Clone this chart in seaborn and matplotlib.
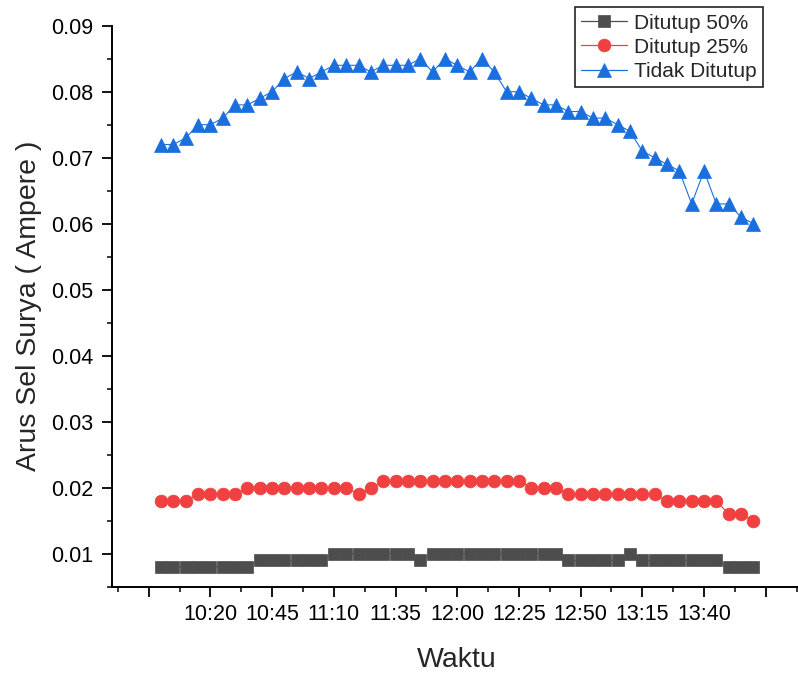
import pandas as pd
import matplotlib
matplotlib.use("Agg")
import matplotlib.pyplot as plt
import matplotlib.ticker as mticker
import seaborn as sns

# ---------------- data ----------------
waktu = ["10:00", "10:05", "10:10", "10:15", "10:20", "10:25", "10:30", "10:35", "10:40", "10:45",
         "10:50", "10:55", "11:00", "11:05", "11:10", "11:15", "11:20", "11:25", "11:30", "11:35",
         "11:40", "11:45", "11:50", "11:55", "12:00", "12:05", "12:10", "12:15", "12:20", "12:25",
         "12:30", "12:35", "12:40", "12:45", "12:50", "12:55", "13:00", "13:05", "13:10", "13:15",
         "13:20", "13:25", "13:30", "13:35", "13:40", "13:45", "13:50", "13:55", "14:00"]

ditutup_50 = [0.008, 0.008, 0.008, 0.008, 0.008, 0.008, 0.008, 0.008, 0.009, 0.009,
              0.009, 0.009, 0.009, 0.009, 0.010, 0.010, 0.010, 0.010, 0.010, 0.010,
              0.010, 0.009, 0.010, 0.010, 0.010, 0.010, 0.010, 0.010, 0.010, 0.010,
              0.010, 0.010, 0.010, 0.009, 0.009, 0.009, 0.009, 0.009, 0.010, 0.009,
              0.009, 0.009, 0.009, 0.009, 0.009, 0.009, 0.008, 0.008, 0.008]

ditutup_25 = [0.018, 0.018, 0.018, 0.019, 0.019, 0.019, 0.019, 0.020, 0.020, 0.020,
              0.020, 0.020, 0.020, 0.020, 0.020, 0.020, 0.019, 0.020, 0.021, 0.021,
              0.021, 0.021, 0.021, 0.021, 0.021, 0.021, 0.021, 0.021, 0.021, 0.021,
              0.020, 0.020, 0.020, 0.019, 0.019, 0.019, 0.019, 0.019, 0.019, 0.019,
              0.019, 0.018, 0.018, 0.018, 0.018, 0.018, 0.016, 0.016, 0.015]

tidak_ditutup = [0.072, 0.072, 0.073, 0.075, 0.075, 0.076, 0.078, 0.078, 0.079, 0.080,
                 0.082, 0.083, 0.082, 0.083, 0.084, 0.084, 0.084, 0.083, 0.084, 0.084,
                 0.084, 0.085, 0.083, 0.085, 0.084, 0.083, 0.085, 0.083, 0.080, 0.080,
                 0.079, 0.078, 0.078, 0.077, 0.077, 0.076, 0.076, 0.075, 0.074, 0.071,
                 0.070, 0.069, 0.068, 0.063, 0.068, 0.063, 0.063, 0.061, 0.060]

# time -> minutes since midnight for the numeric x axis
def ke_menit(s):
    j, m = s.split(":")
    return int(j) * 60 + int(m)

menit = [ke_menit(w) for w in waktu]

sns.set_style("ticks")
plt.rcParams["font.family"] = ["Liberation Sans", "DejaVu Sans"]

fig = plt.figure(figsize=(7.98, 6.73), dpi=100)
ax = fig.add_axes([0.14, 0.1282, 0.8659, 0.8336])

sns.lineplot(x=menit, y=ditutup_50, ax=ax, color="#4d4d4d", linewidth=0.8,
             marker="s", markersize=8, markeredgewidth=0.5, markeredgecolor="#4d4d4d",
             label="Ditutup 50%")
sns.lineplot(x=menit, y=ditutup_25, ax=ax, color="#f04040", linewidth=0.8,
             marker="o", markersize=9.2, markeredgewidth=0.5, markeredgecolor="#f04040",
             label="Ditutup 25%")
sns.lineplot(x=menit, y=tidak_ditutup, ax=ax, color="#1a6fdf", linewidth=0.8,
             marker="^", markersize=10.5, markeredgewidth=0.5, markeredgecolor="#1a6fdf",
             label="Tidak Ditutup")

# axes limits and ticks
ax.set_xlim(ke_menit("09:40"), ke_menit("14:20"))
ax.set_ylim(0.005, 0.09)

mayor_x = [ke_menit(w) for w in ["09:55", "10:20", "10:45", "11:10", "11:35", "12:00",
                                 "12:25", "12:50", "13:15", "13:40", "14:05"]]
label_x = ["", "10:20", "10:45", "11:10", "11:35", "12:00", "12:25", "12:50", "13:15", "13:40", ""]
ax.xaxis.set_major_locator(mticker.FixedLocator(mayor_x))
ax.set_xticklabels(label_x)
ax.xaxis.set_minor_locator(mticker.AutoMinorLocator(2))

ax.yaxis.set_major_locator(mticker.MultipleLocator(0.01))
ax.yaxis.set_minor_locator(mticker.AutoMinorLocator(2))
ax.yaxis.set_major_formatter(mticker.FormatStrFormatter("%.2f"))

ax.tick_params(which="major", direction="out", length=7.5, width=1.3, labelsize=15.5,
               pad=5, colors="black")
ax.tick_params(which="minor", direction="out", length=3.8, width=1.3)
ax.tick_params(axis="y", which="major", pad=6)

for s in ["top", "right"]:
    ax.spines[s].set_visible(False)
for s in ["left", "bottom"]:
    ax.spines[s].set_linewidth(1.4)
    ax.spines[s].set_color("black")

ax.set_xlabel("Waktu", fontsize=20.5, labelpad=16)
ax.set_ylabel("Arus Sel Surya ( Ampere )", fontsize=20.5, labelpad=6)

leg = ax.legend(loc="upper right", bbox_to_anchor=(0.9565, 0.9892),
                bbox_transform=fig.transFigure, borderaxespad=0,
                fontsize=15, frameon=True, fancybox=False, framealpha=1,
                edgecolor="#222222", handlelength=2.2, handletextpad=0.35,
                labelspacing=0.25, borderpad=0.3)
leg.get_frame().set_linewidth(1.2)
for ln in leg.get_lines():
    ln.set_linewidth(0.9)

fig.savefig("out.png", dpi=100)
